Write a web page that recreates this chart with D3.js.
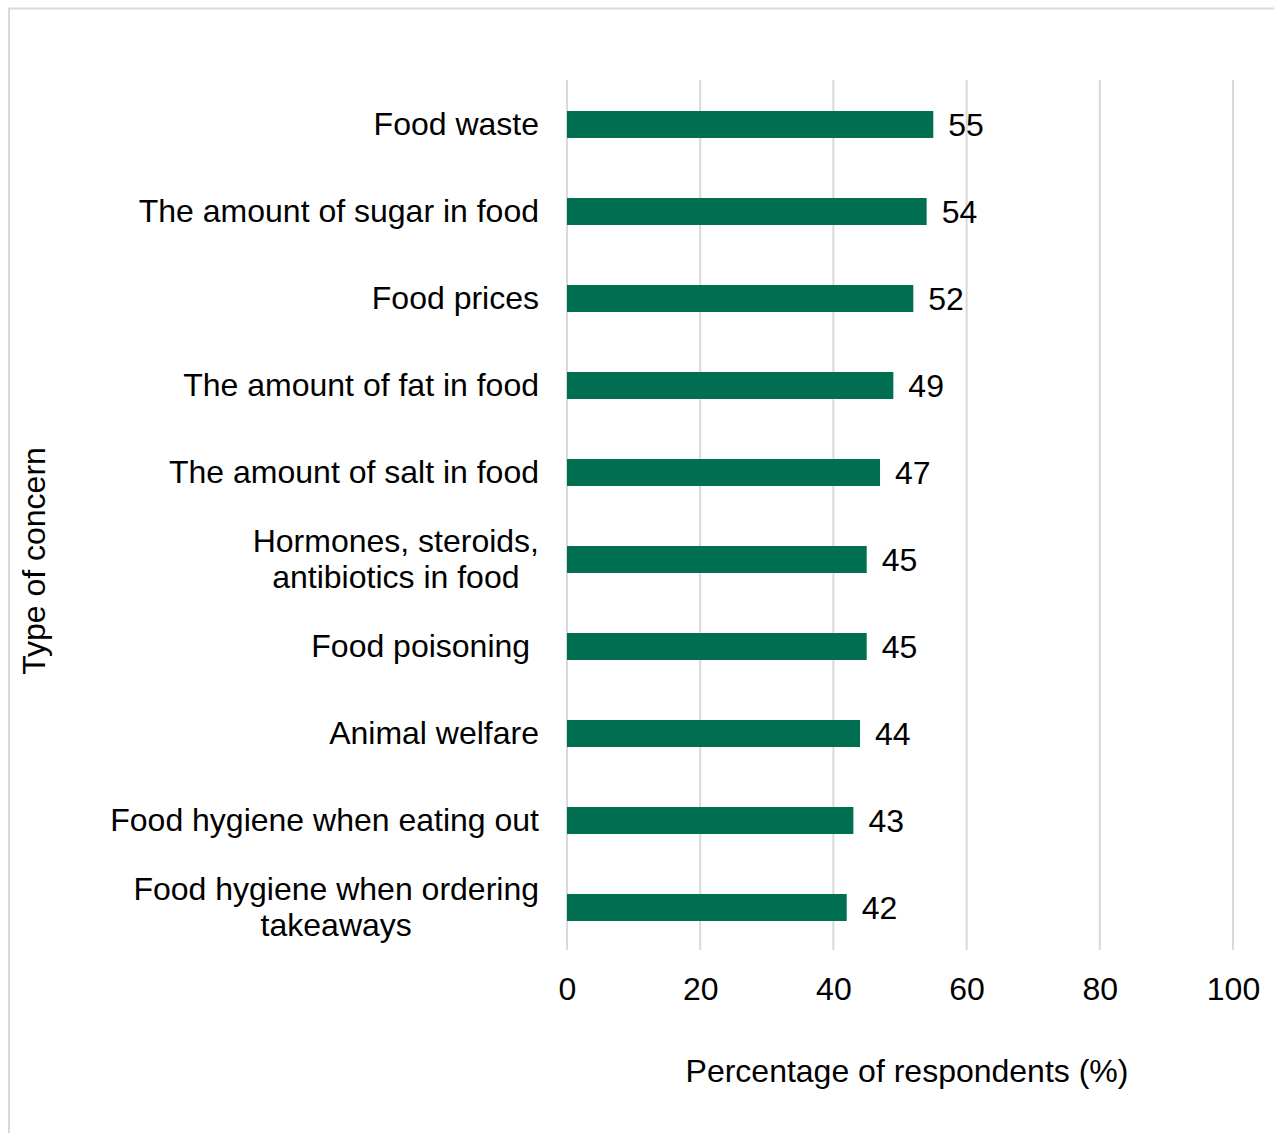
<!DOCTYPE html>
<html>
<head>
<meta charset="utf-8">
<script src="https://cdn.jsdelivr.net/npm/d3@7"></script>
<style>
  body { margin: 0; background: #fff; }
  svg { display: block; font-family: "Liberation Sans", Arial, sans-serif; }
</style>
</head>
<body>
<svg id="chart"></svg>
<script>
const categories = [
  ['Food waste'],
  ['The amount of sugar in food'],
  ['Food prices'],
  ['The amount of fat in food'],
  ['The amount of salt in food'],
  ['Hormones, steroids,', 'antibiotics in food'],
  ['Food poisoning '],
  ['Animal welfare'],
  ['Food hygiene when eating out'],
  ['Food hygiene when ordering', 'takeaways']
];
const values = [55, 54, 52, 49, 47, 45, 45, 44, 43, 42];
const xTicks = [0, 20, 40, 60, 80, 100];

const W = 1274, H = 1133;
const FS = 32;
const margin = {top: 80, right: 41, bottom: 183, left: 567};
const width = W - margin.left - margin.right,
  height = H - margin.top - margin.bottom;

const svg = d3.select('#chart')
  .attr('width', W)
  .attr('height', H);

// outer frame (top and left edges visible)
svg.append('line').attr('x1', 8).attr('x2', W).attr('y1', 8.5).attr('y2', 8.5)
  .attr('stroke', '#d9d9d9').attr('stroke-width', 2);
svg.append('line').attr('x1', 9).attr('x2', 9).attr('y1', 8).attr('y2', H)
  .attr('stroke', '#d9d9d9').attr('stroke-width', 2);

const chart = svg.append('g')
  .attr('transform', `translate(${margin.left},${margin.top})`);

const x = d3.scaleLinear().domain([0, 100]).range([0, width]);
const y = d3.scaleBand()
  .domain(d3.range(categories.length))
  .range([0, height])
  .paddingInner(0.69)
  .paddingOuter(0.345);

// gridlines
chart.selectAll('.grid')
  .data(xTicks)
  .enter().append('line')
  .attr('class', 'grid')
  .attr('x1', d => x(d)).attr('x2', d => x(d))
  .attr('y1', 0).attr('y2', height)
  .attr('stroke', '#d9d9d9')
  .attr('stroke-width', 2);

// x axis tick labels
const xAxis = chart.append('g')
  .attr('transform', `translate(0,${height})`)
  .call(d3.axisBottom(x).tickValues(xTicks).tickSize(0).tickPadding(27));
xAxis.select('.domain').remove();
xAxis.selectAll('text')
  .attr('font-size', FS)
  .attr('font-family', '"Liberation Sans", Arial, sans-serif')
  .attr('fill', '#000');

// bars
chart.selectAll('.bar')
  .data(values)
  .enter().append('rect')
  .attr('class', 'bar')
  .attr('x', x(0))
  .attr('y', (d, i) => y(i) + 1)
  .attr('width', d => x(d) - x(0))
  .attr('height', y.bandwidth())
  .attr('fill', '#006f51');

// value labels
chart.selectAll('.val')
  .data(values)
  .enter().append('text')
  .attr('class', 'val')
  .attr('x', d => x(d) + 15)
  .attr('y', (d, i) => y(i) + y.bandwidth() / 2 + 1)
  .attr('dy', '0.36em')
  .attr('font-size', FS)
  .text(d => d);

// category labels
const lab = chart.selectAll('.cat')
  .data(categories)
  .enter().append('text')
  .attr('class', 'cat')
  .attr('font-size', FS)
  .attr('y', (d, i) => y(i) + y.bandwidth() / 2);

lab.each(function(lines) {
  const t = d3.select(this);
  if (lines.length === 1) {
    t.append('tspan')
      .attr('x', -28)
      .attr('dy', '0.36em')
      .attr('text-anchor', 'end')
      .attr('xml:space', 'preserve')
      .text(lines[0]);
  } else {
    // measure widest line to center lines under a right-aligned block
    const probe = t.append('tspan').text(lines[0]);
    let wMax = 0;
    lines.forEach(l => {
      probe.text(l);
      wMax = Math.max(wMax, probe.node().getComputedTextLength());
    });
    probe.remove();
    const cx = -28 - wMax / 2;
    lines.forEach((l, k) => {
      t.append('tspan')
        .attr('x', cx)
        .attr('text-anchor', 'middle')
        .attr('dy', k === 0 ? (0.36 * FS - 18) : 36)
        .text(l);
    });
  }
});

// axis titles
svg.append('text')
  .attr('x', 907)
  .attr('y', 1070)
  .attr('dy', '0.36em')
  .attr('text-anchor', 'middle')
  .attr('font-size', FS)
  .text('Percentage of respondents (%)');

svg.append('text')
  .attr('transform', 'translate(33,561) rotate(-90)')
  .attr('dy', '0.36em')
  .attr('text-anchor', 'middle')
  .attr('font-size', FS)
  .text('Type of concern');
</script>
</body>
</html>
